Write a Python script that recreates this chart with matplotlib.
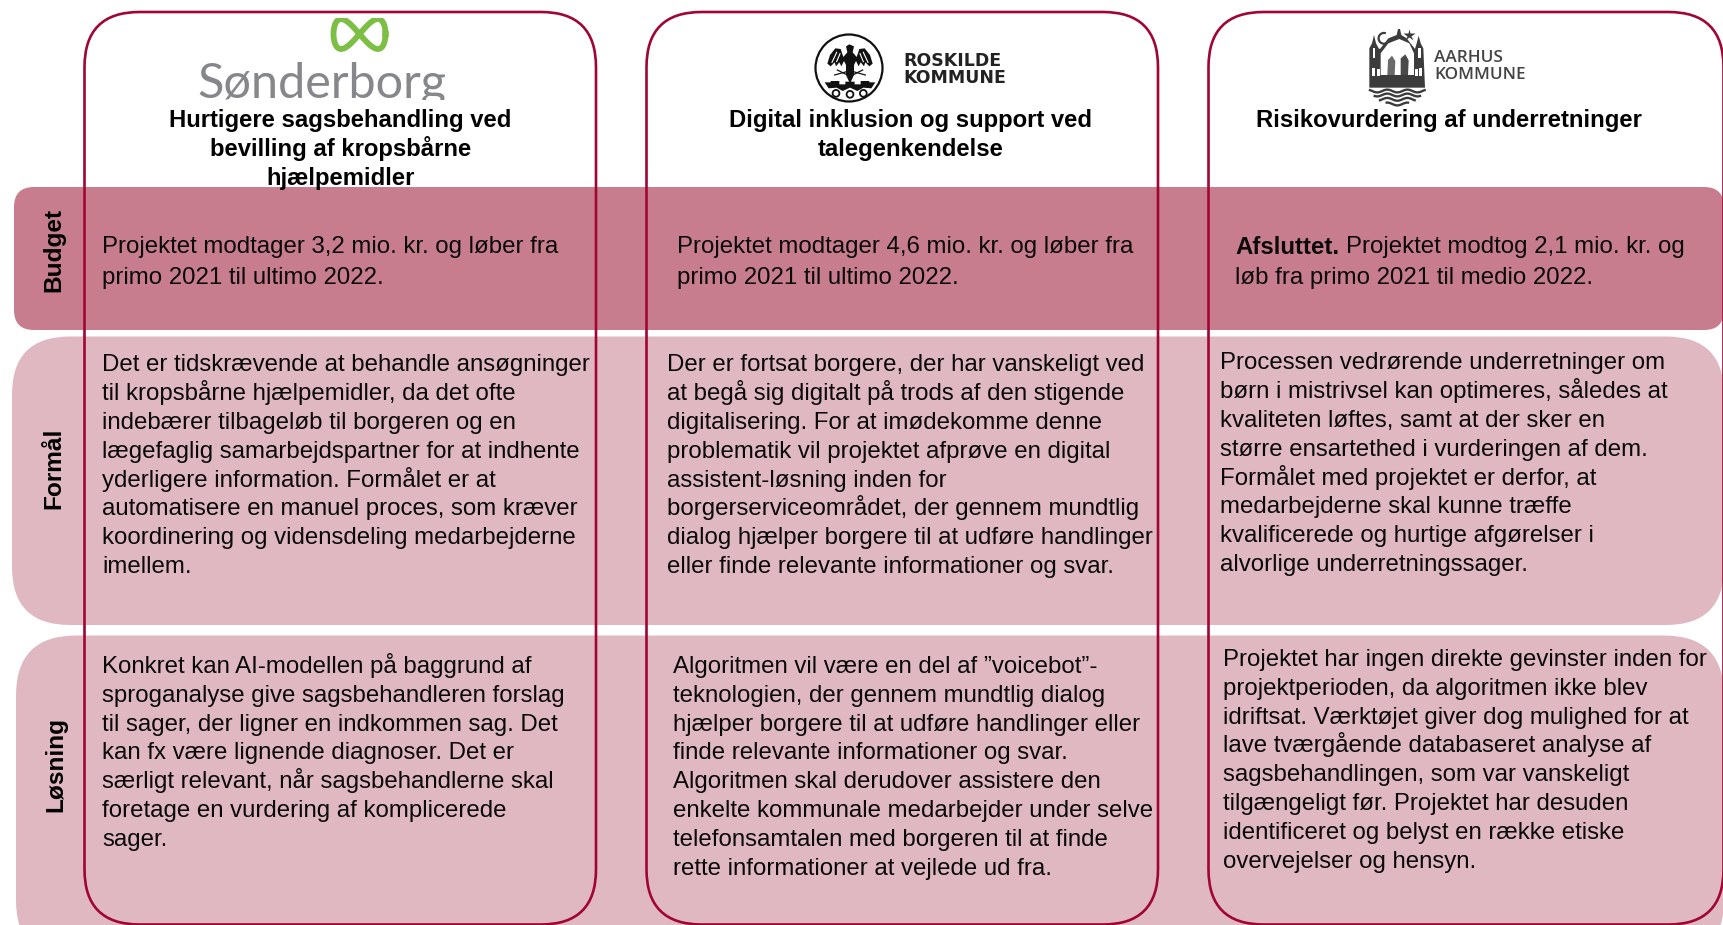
import matplotlib
matplotlib.use("Agg")
import matplotlib.pyplot as plt
from matplotlib.patches import FancyBboxPatch, Circle, Rectangle, Polygon, Wedge
import numpy as np

plt.rcParams['font.family'] = ['Liberation Sans', 'DejaVu Sans']

row_labels = ["Budget", "Formål", "Løsning"]
titles = [
    ["Hurtigere sagsbehandling ved", "bevilling af kropsbårne", "hjælpemidler"],
    ["Digital inklusion og support ved", "talegenkendelse"],
    ["Risikovurdering af underretninger"],
]
budget = [
    ["Projektet modtager 3,2 mio. kr. og løber fra", "primo 2021 til ultimo 2022."],
    ["Projektet modtager 4,6 mio. kr. og løber fra", "primo 2021 til ultimo 2022."],
    ["Projektet modtog 2,1 mio. kr. og", "løb fra primo 2021 til medio 2022."],
]
formaal = [
    ["Det er tidskrævende at behandle ansøgninger", "til kropsbårne hjælpemidler, da det ofte",
     "indebærer tilbageløb til borgeren og en", "lægefaglig samarbejdspartner for at indhente",
     "yderligere information. Formålet er at", "automatisere en manuel proces, som kræver",
     "koordinering og vidensdeling medarbejderne", "imellem."],
    ["Der er fortsat borgere, der har vanskeligt ved", "at begå sig digitalt på trods af den stigende",
     "digitalisering. For at imødekomme denne", "problematik vil projektet afprøve en digital",
     "assistent-løsning inden for", "borgerserviceområdet, der gennem mundtlig",
     "dialog hjælper borgere til at udføre handlinger", "eller finde relevante informationer og svar."],
    ["Processen vedrørende underretninger om", "børn i mistrivsel kan optimeres, således at",
     "kvaliteten løftes, samt at der sker en", "større ensartethed i vurderingen af dem.",
     "Formålet med projektet er derfor, at", "medarbejderne skal kunne træffe",
     "kvalificerede og hurtige afgørelser i", "alvorlige underretningssager."],
]
loesning = [
    ["Konkret kan AI-modellen på baggrund af", "sproganalyse give sagsbehandleren forslag",
     "til sager, der ligner en indkommen sag. Det", "kan fx være lignende diagnoser. Det er",
     "særligt relevant, når sagsbehandlerne skal", "foretage en vurdering af komplicerede", "sager."],
    ["Algoritmen vil være en del af ”voicebot”-", "teknologien, der gennem mundtlig dialog",
     "hjælper borgere til at udføre handlinger eller", "finde relevante informationer og svar.",
     "Algoritmen skal derudover assistere den", "enkelte kommunale medarbejder under selve",
     "telefonsamtalen med borgeren til at finde", "rette informationer at vejlede ud fra."],
    ["Projektet har ingen direkte gevinster inden for", "projektperioden, da algoritmen ikke blev",
     "idriftsat. Værktøjet giver dog mulighed for at", "lave tværgående databaseret analyse af",
     "sagsbehandlingen, som var vanskeligt", "tilgængeligt før. Projektet har desuden",
     "identificeret og belyst en række etiske", "overvejelser og hensyn."],
]

BAND_D = '#C87D8F'
BAND_L = '#E0B8C2'
LINE = '#A00634'
INK = '#0a0a0a'
BODY = 17.28

fig = plt.figure(figsize=(17.24, 9.25), dpi=100)
ax = fig.add_axes([0, 0, 1, 1])
ax.set_xlim(0, 1724)
ax.set_ylim(925, 0)
ax.axis('off')


def rbox(x0, y0, x1, y1, r, **kw):
    p = FancyBboxPatch((x0 + r, y0 + r), x1 - x0 - 2 * r, y1 - y0 - 2 * r,
                       boxstyle=f"round,pad={r},rounding_size={r}", **kw)
    ax.add_patch(p)
    return p


# bands
rbox(14, 187, 1724, 330, 20, fc=BAND_D, ec='none', zorder=1)
rbox(12, 336.5, 1724, 625, 58, fc=BAND_L, ec='none', zorder=1)
rbox(16, 635.5, 1724, 960, 60, fc=BAND_L, ec='none', zorder=1)

# cards
for x0, x1 in [(84.5, 596), (646.5, 1158), (1208.5, 1723.5)]:
    rbox(x0, 12, x1, 924.5, 55, fc='none', ec=LINE, lw=1.9, zorder=3)


def ys(start, n, step=28.8):
    return [start + i * step for i in range(n)]


def lines(x, baselines, texts):
    for y, t in zip(baselines, texts):
        ax.text(x, y, t, fontsize=BODY, va='baseline', ha='left', color=INK, zorder=5)


# titles
for cx, t in zip([340.5, 910.5, 1449], titles):
    for y, s in zip(ys(126.7, len(t), 28.9), t):
        ax.text(cx, y, s, fontsize=17.2, fontweight='bold', ha='center', va='baseline',
                zorder=5, color='black')

# row labels
for x, y, s in zip([54, 54, 56], [250, 468, 765], row_labels):
    ax.text(x, y, s, fontsize=17.6, fontweight='bold', rotation=90, ha='center', va='center', zorder=5)

# body text
lines(102, ys(253.5, 2, 30.5), budget[0])
lines(677, ys(253.5, 2, 30.5), budget[1])
ax.text(1235, 253.5, "Afsluttet.", fontsize=BODY, fontweight='bold', va='baseline', zorder=5, color=INK)
lines(1346, [253.5], budget[2][:1])
lines(1235, [284], budget[2][1:])

lines(102, ys(371.5, 8), formaal[0])
lines(667, ys(371.5, 8), formaal[1])
lines(1220.5, ys(369.5, 8), formaal[2])
lines(102, ys(673, 7), loesning[0])
lines(673, ys(673, 8), loesning[1])
lines(1223.5, ys(666, 8), loesning[2])

# Sønderborg logo
t = np.linspace(0, 2 * np.pi, 300)
inf, = ax.plot(359.5 + 26 * np.cos(t), 34 + 15 * np.sin(2 * t), color='#7DBE45', lw=4.2, zorder=4)
inf.set_clip_path(Rectangle((320, 18), 80, 40, transform=ax.transData))
sb = ax.text(197, 97, "Sønderborg", fontsize=35, color='#85878A', va='baseline', ha='left',
             family=['Lato', 'DejaVu Sans'], fontweight='normal', zorder=4, clip_on=True)
sb.set_clip_path(Rectangle((190, 50), 280, 49.5, transform=ax.transData))


# Roskilde logo: drawn in a local frame (crop px × 3)
def rp(pts):
    return [(800 + x / 3, 25 + y / 3) for x, y in pts]


DK = '#111111'
ax.add_patch(Circle((849, 68), 33.5, fc='white', ec=DK, lw=1.6, zorder=4))
half = [(148, 58), (138, 64), (142, 82), (130, 96), (122, 72), (106, 70), (90, 90), (82, 116),
        (92, 124), (104, 112), (108, 124), (118, 112), (124, 124), (132, 108), (138, 120),
        (138, 150), (150, 176)]
mirror = [(300 - x, y) for x, y in reversed(half[:-1])]
ax.add_patch(Polygon(rp(half + mirror[:-1]), fc=DK, ec='none', zorder=5))
for a, b in [((110, 82), (96, 112)), ((120, 86), (110, 110)), ((190, 82), (204, 112)), ((180, 86), (190, 110))]:
    (xa, ya), (xb, yb) = rp([a, b])
    ax.plot([xa, xb], [ya, yb], color='white', lw=0.8, zorder=6)
for a, b in [((140, 140), (104, 150)), ((138, 148), (112, 135)), ((160, 140), (196, 150)), ((162, 148), (188, 135))]:
    (xa, ya), (xb, yb) = rp([a, b])
    ax.plot([xa, xb], [ya, yb], color=DK, lw=0.9, zorder=5)
ax.add_patch(Polygon(rp([(74, 172), (92, 172), (92, 168), (118, 168), (118, 178), (136, 178), (136, 170),
                         (164, 170), (164, 178), (182, 178), (182, 168), (208, 168), (208, 172), (226, 172),
                         (214, 190), (190, 188), (172, 198), (150, 188), (128, 198), (110, 188), (86, 190)]),
                     fc=DK, ec='none', zorder=5))
for x, y in rp([(108, 205), (150, 208), (190, 205)]):
    ax.add_patch(Circle((x, y), 3.4, fc='white', ec=DK, lw=1.3, zorder=5))

ax.text(903, 61.5, "ROSKILDE", fontsize=12.5, fontweight='bold', family=['DejaVu Sans'],
        va='center', color='#222222', zorder=5)
ax.text(903, 78, "KOMMUNE", fontsize=12.5, fontweight='bold', family=['DejaVu Sans'],
        va='center', color='#222222', zorder=5)


# Aarhus logo: local frame (crop px × 3)
def ap(pts):
    return [(1360 + x / 3, 25 + y / 3) for x, y in pts]


AK = '#3C3C3C'
body = [(28, 70), (36, 55), (42, 30), (48, 55), (56, 70), (60, 72), (85, 40), (110, 30), (114, 12), (120, 12),
        (124, 30), (140, 40), (165, 72), (170, 55), (176, 32), (182, 55), (190, 70), (195, 188), (28, 188)]
ax.add_patch(Polygon(ap(body), fc=AK, ec='none', zorder=4))
ax.add_patch(Polygon(ap([(62, 150), (62, 85), (85, 55), (118, 42), (148, 55), (162, 85), (162, 150)]),
                     fc='white', ec='none', zorder=4))
ax.add_patch(Polygon(ap([(82, 150), (84, 105), (96, 92), (106, 108), (104, 150)]), fc='#6a6a6a', ec='none', zorder=5))
ax.add_patch(Polygon(ap([(122, 150), (122, 100), (136, 88), (146, 106), (144, 150)]), fc='#4a4a4a', ec='none', zorder=5))
for x, y, w, h in [(38, 70, 8, 28), (174, 70, 8, 28), (36, 130, 9, 22), (52, 132, 7, 20), (166, 132, 7, 20), (178, 130, 9, 22)]:
    (px, py), = ap([(x, y)])
    ax.add_patch(Rectangle((px, py), w / 3, h / 3, fc='white', ec='none', zorder=5))
cx, cy = ap([(72, 40)])[0]
ax.add_patch(Wedge((cx, cy), 6.5, 60, 290, width=2.2, fc=AK, ec='none', zorder=4))
sx, sy = ap([(146, 30)])[0]
ax.plot([sx], [sy], marker='*', ms=9, color=AK, mec='none', zorder=4)
for yw, half_w in zip([198, 210, 223, 237], [82, 68, 52, 32]):
    (xa, ya), (xb, yb) = ap([(112 - half_w, yw), (112 + half_w, yw)])
    px = np.linspace(xa, xb, 60)
    ax.plot(px, ya + 1.4 * np.cos((px - (xa + xb) / 2) / 3.2), color=AK, lw=1.7, zorder=4)

ax.text(1434, 58, "AARHUS", fontsize=12.3, family=['Open Sans', 'DejaVu Sans'], va='center',
        color='#444444', zorder=5, fontweight='semibold')
ax.text(1434, 75, "KOMMUNE", fontsize=12.3, family=['Open Sans', 'DejaVu Sans'], va='center',
        color='#444444', zorder=5, fontweight='semibold')

fig.savefig("out.png", dpi=100, facecolor='white')
